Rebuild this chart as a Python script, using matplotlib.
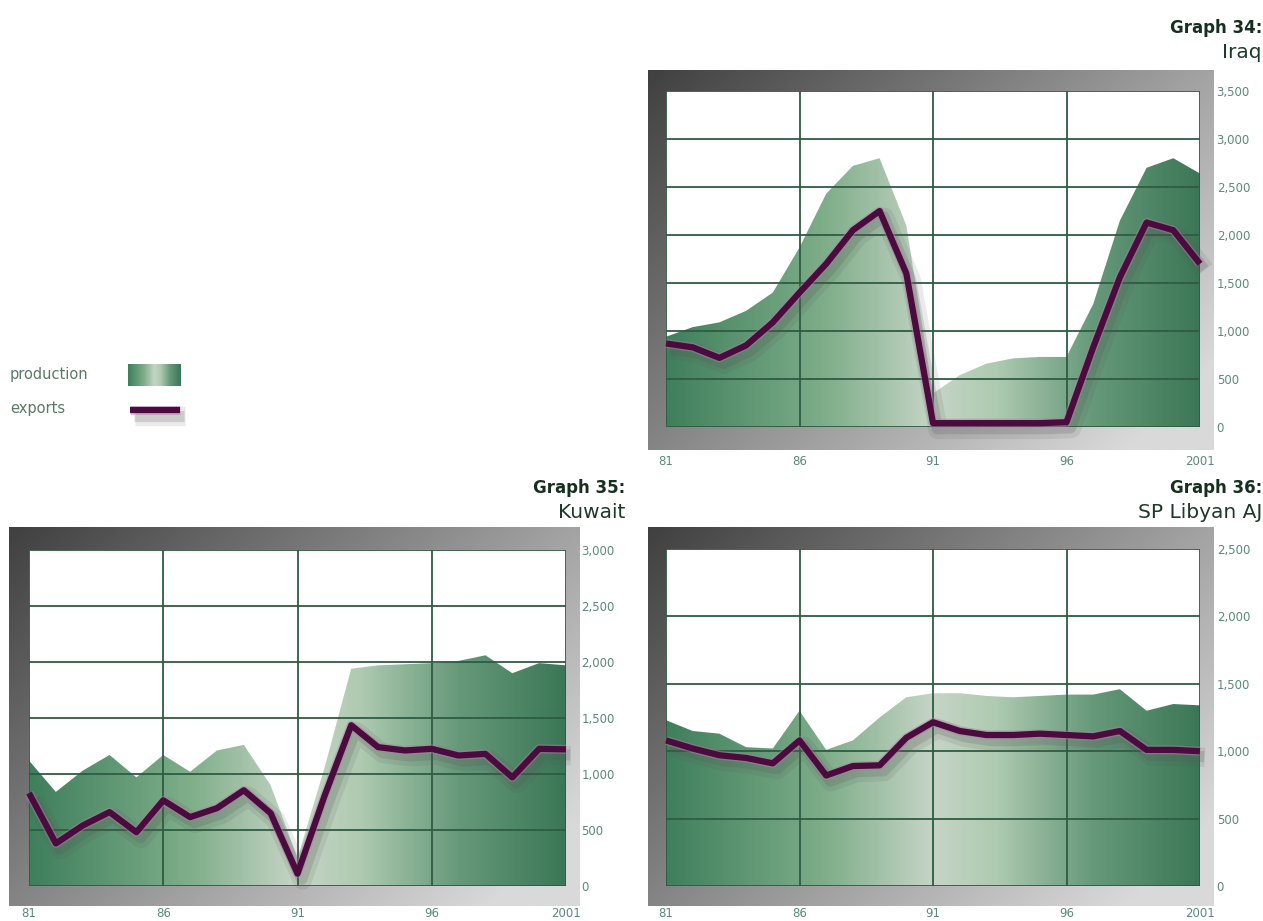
import numpy as np
import matplotlib
matplotlib.use('Agg')
import matplotlib.pyplot as plt
from matplotlib.colors import LinearSegmentedColormap
import matplotlib.patheffects as pe
from matplotlib.lines import Line2D

# ---------------- data ----------------
years = list(range(1981, 2002))
xtick_years = [1981, 1986, 1991, 1996, 2001]
xtick_labels = ['81', '86', '91', '96', '2001']

iraq_production = [940, 1040, 1090, 1210, 1400, 1870, 2430, 2720, 2800, 2100, 350,
                   540, 660, 715, 730, 730, 1280, 2150, 2700, 2800, 2640]
iraq_exports = [870, 830, 720, 850, 1090, 1400, 1700, 2050, 2250, 1600, 40,
                40, 40, 40, 40, 50, 830, 1560, 2130, 2050, 1700]
iraq_yticks = [0, 500, 1000, 1500, 2000, 2500, 3000, 3500]

kuwait_production = [1120, 840, 1030, 1170, 970, 1170, 1020, 1210, 1260, 900, 250,
                     1050, 1940, 1970, 1980, 1990, 2010, 2060, 1900, 1990, 1970]
kuwait_exports = [830, 380, 540, 660, 480, 765, 615, 695, 855, 650, 110,
                  800, 1435, 1240, 1210, 1225, 1165, 1180, 970, 1225, 1220]
kuwait_yticks = [0, 500, 1000, 1500, 2000, 2500, 3000]

libya_production = [1230, 1150, 1130, 1030, 1020, 1300, 1010, 1080, 1250, 1400, 1430,
                    1430, 1410, 1400, 1410, 1420, 1420, 1460, 1300, 1350, 1340]
libya_exports = [1080, 1020, 970, 950, 910, 1080, 820, 890, 895, 1100, 1215,
                 1150, 1120, 1120, 1130, 1120, 1110, 1150, 1010, 1010, 1000]
libya_yticks = [0, 500, 1000, 1500, 2000, 2500]

# ---------------- figure ----------------
W, H = 1263, 921
fig = plt.figure(figsize=(W / 100, H / 100), dpi=100)
fig.patch.set_facecolor('white')


def px_rect(x0, y0, x1, y1):
    return [x0 / W, 1 - y1 / H, (x1 - x0) / W, (y1 - y0) / H]


green_cmap = LinearSegmentedColormap.from_list(
    'prod', [(0.0, '#3f7f5c'), (0.3, '#7fae8a'), (0.5, '#c6d5c6'),
             (0.62, '#aecab0'), (0.8, '#66997a'), (1.0, '#3b7756')])

LINE_COLOR = '#4b0b3e'
GRID_COLOR = '#2e5c43'
TICK_COLOR = '#5a8a7c'


def line_effects():
    return [pe.SimpleLineShadow(offset=(3.5, -4.5), shadow_color='#555555',
                                alpha=0.12, linewidth=14),
            pe.SimpleLineShadow(offset=(3, -4), shadow_color='#555555',
                                alpha=0.2, linewidth=8),
            pe.Stroke(linewidth=6.5, foreground='#b080a8', alpha=0.45),
            pe.Normal()]


def draw_frame(rect):
    axf = fig.add_axes(rect, zorder=0)
    u = np.linspace(0, 1, 300)
    v = np.linspace(0, 1, 300)
    U, V = np.meshgrid(u, v)
    g = 0.25 + 0.6 * np.clip(0.65 * U + 0.45 * V, 0, 1)
    axf.imshow(g, cmap='gray', vmin=0, vmax=1, aspect='auto', interpolation='bilinear')
    axf.axis('off')


def draw_panel(ax_rect, frame_rect, prod, exp, yticks, xpad, ypad):
    draw_frame(frame_rect)
    ax = fig.add_axes(ax_rect, zorder=1)
    ax.set_facecolor('white')
    ymax = yticks[-1]
    poly = ax.fill_between(years, 0, prod, facecolor='none', edgecolor='none', zorder=1)
    grad = np.linspace(0, 1, 256).reshape(1, -1)
    im = ax.imshow(grad, cmap=green_cmap, aspect='auto',
                   extent=(years[0], years[-1], 0, ymax), zorder=1, interpolation='bilinear')
    im.set_clip_path(poly.get_paths()[0], transform=ax.transData)
    ax.set_xlim(years[0], years[-1])
    ax.set_ylim(0, ymax)
    ax.set_xticks(xtick_years)
    ax.set_xticklabels(xtick_labels)
    ax.set_yticks(yticks)
    ax.set_yticklabels([f'{t:,}' for t in yticks])
    ax.grid(True, color=GRID_COLOR, lw=1.3)
    ax.set_axisbelow(False)
    for s in ax.spines.values():
        s.set_visible(False)
    ax.tick_params(axis='both', length=0, colors=TICK_COLOR, labelsize=8.5)
    ax.tick_params(axis='x', pad=xpad)
    ax.tick_params(axis='y', left=False, labelleft=False, right=False,
                   labelright=True, pad=ypad)
    for lab in ax.get_yticklabels():
        lab.set_horizontalalignment('left')
    ax.plot(years, exp, color=LINE_COLOR, lw=4.5, zorder=4, clip_on=False,
            solid_joinstyle='round', solid_capstyle='butt', path_effects=line_effects())
    return ax


# Iraq
draw_panel(px_rect(666, 91, 1200, 427), px_rect(648, 70, 1214, 450),
           iraq_production, iraq_exports, iraq_yticks, xpad=20, ypad=12)
# Kuwait
draw_panel(px_rect(29, 550, 566, 886), px_rect(9, 527, 580, 906),
           kuwait_production, kuwait_exports, kuwait_yticks, xpad=15, ypad=11)
# Libya
draw_panel(px_rect(666, 549, 1200, 886), px_rect(648, 527, 1214, 906),
           libya_production, libya_exports, libya_yticks, xpad=15, ypad=12)

# titles
TITLE_COLOR = '#16301f'
fig.text(1262 / W, 1 - 28 / H, 'Graph 34:', ha='right', va='center', fontsize=12,
         fontweight='bold', color=TITLE_COLOR)
fig.text(1262 / W, 1 - 52 / H, 'Iraq', ha='right', va='center', fontsize=14.5, color='#1c3a2a')
fig.text(625 / W, 1 - 488 / H, 'Graph 35:', ha='right', va='center', fontsize=12,
         fontweight='bold', color=TITLE_COLOR)
fig.text(625 / W, 1 - 512 / H, 'Kuwait', ha='right', va='center', fontsize=14.5, color='#1c3a2a')
fig.text(1262 / W, 1 - 488 / H, 'Graph 36:', ha='right', va='center', fontsize=12,
         fontweight='bold', color=TITLE_COLOR)
fig.text(1262 / W, 1 - 512 / H, 'SP Libyan AJ', ha='right', va='center', fontsize=14.5,
         color='#1c3a2a')

# legend
fig.text(10 / W, 1 - 374 / H, 'production', ha='left', va='center', fontsize=10.5,
         color='#5a7a68')
fig.text(10 / W, 1 - 409 / H, 'exports', ha='left', va='center', fontsize=10.5,
         color='#5a7a68')
axs = fig.add_axes(px_rect(128, 364, 181, 386), zorder=2)
axs.imshow(np.linspace(0, 1, 64).reshape(1, -1), cmap=green_cmap, aspect='auto',
           interpolation='bilinear')
axs.axis('off')
leg_line = Line2D([130 / W, 180 / W], [1 - 410 / H, 1 - 410 / H], transform=fig.transFigure,
                  color=LINE_COLOR, lw=4.5, solid_capstyle='butt', path_effects=line_effects())
fig.add_artist(leg_line)

fig.savefig('out.png', dpi=100, facecolor='white')
